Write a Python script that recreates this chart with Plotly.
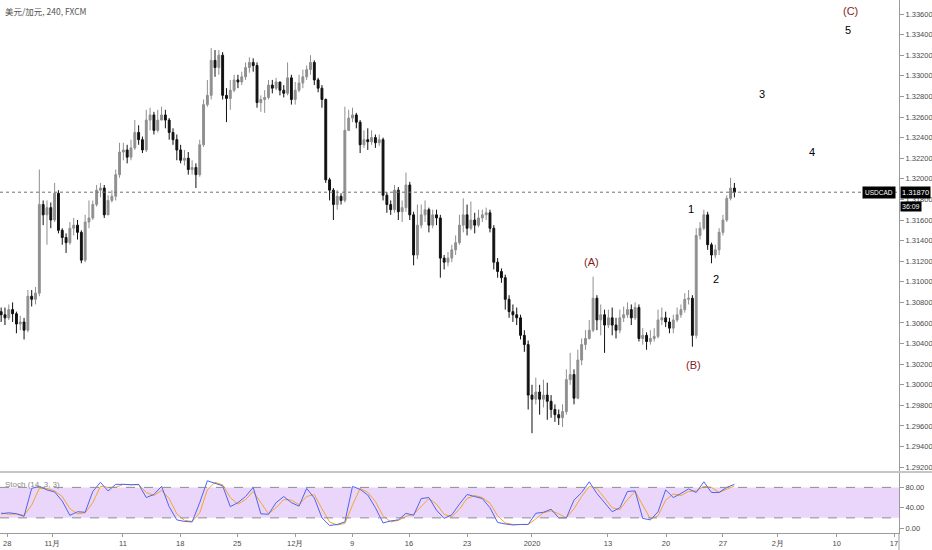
import plotly.graph_objects as go

# ---------------- data ----------------
opens = [1.3071,1.3068,1.3065,1.3073,1.3069,1.3059,1.3061,1.3053,1.3086,1.3083,
 1.3089,1.3175,1.3165,1.3172,1.3160,1.3186,1.3150,1.3143,1.3138,1.3152,
 1.3155,1.3148,1.3121,1.3158,1.3162,1.3175,1.3189,1.3191,1.3165,1.3179,
 1.3183,1.3204,1.3226,1.3228,1.3221,1.3230,1.3245,1.3238,1.3228,1.3257,
 1.3262,1.3247,1.3257,1.3262,1.3257,1.3245,1.3238,1.3228,1.3218,1.3220,
 1.3209,1.3211,1.3204,1.3233,1.3272,1.3281,1.3315,1.3308,1.3320,1.3281,
 1.3278,1.3286,1.3296,1.3294,1.3299,1.3308,1.3313,1.3310,1.3274,1.3277,
 1.3279,1.3291,1.3288,1.3294,1.3286,1.3283,1.3298,1.3277,1.3286,1.3293,
 1.3299,1.3306,1.3313,1.3296,1.3288,1.3277,1.3199,1.3189,1.3175,1.3183,
 1.3179,1.3247,1.3259,1.3262,1.3255,1.3233,1.3238,1.3236,1.3240,1.3235,
 1.3238,1.3184,1.3175,1.3170,1.3189,1.3168,1.3172,1.3194,1.3165,1.3126,
 1.3155,1.3165,1.3170,1.3155,1.3165,1.3162,1.3123,1.3119,1.3123,1.3131,
 1.3138,1.3155,1.3165,1.3152,1.3160,1.3155,1.3162,1.3165,1.3167,1.3152,
 1.3119,1.3110,1.3104,1.3083,1.3071,1.3068,1.3065,1.3048,1.3039,1.2990,
 1.2986,1.2993,1.2986,1.2990,1.2984,1.2976,1.2971,1.2968,1.2974,1.3005,
 1.3010,1.2987,1.3024,1.3039,1.3045,1.3053,1.3084,1.3063,1.3068,1.3058,
 1.3065,1.3058,1.3053,1.3065,1.3068,1.3073,1.3065,1.3075,1.3045,1.3048,
 1.3042,1.3045,1.3047,1.3063,1.3065,1.3061,1.3055,1.3063,1.3068,1.3073,
 1.3083,1.3084,1.3048,1.3145,1.3152,1.3165,1.3136,1.3126,1.3131,1.3148,
 1.3160,1.3181,1.3191]

highs = [1.3075,1.3075,1.3078,1.3080,1.3071,1.3067,1.3065,1.3092,1.3092,1.3095,
 1.3209,1.3179,1.3179,1.3177,1.3196,1.3189,1.3152,1.3147,1.3158,1.3162,
 1.3160,1.3150,1.3165,1.3179,1.3179,1.3194,1.3196,1.3194,1.3184,1.3189,
 1.3209,1.3235,1.3235,1.3233,1.3238,1.3257,1.3252,1.3241,1.3267,1.3269,
 1.3265,1.3267,1.3270,1.3267,1.3259,1.3249,1.3243,1.3233,1.3228,1.3226,
 1.3218,1.3215,1.3238,1.3277,1.3296,1.3327,1.3325,1.3325,1.3323,1.3288,
 1.3296,1.3301,1.3301,1.3304,1.3313,1.3318,1.3317,1.3313,1.3281,1.3286,
 1.3296,1.3296,1.3298,1.3294,1.3291,1.3313,1.3301,1.3294,1.3301,1.3306,
 1.3310,1.3320,1.3315,1.3298,1.3291,1.3278,1.3201,1.3191,1.3189,1.3186,
 1.3270,1.3267,1.3269,1.3264,1.3257,1.3247,1.3249,1.3247,1.3243,1.3243,
 1.3240,1.3187,1.3179,1.3194,1.3192,1.3179,1.3206,1.3197,1.3168,1.3175,
 1.3175,1.3179,1.3172,1.3170,1.3170,1.3165,1.3126,1.3129,1.3136,1.3145,
 1.3165,1.3181,1.3175,1.3178,1.3167,1.3170,1.3170,1.3172,1.3170,1.3155,
 1.3123,1.3113,1.3107,1.3087,1.3078,1.3075,1.3068,1.3053,1.3043,1.3000,
 1.3007,1.3000,1.3005,1.3002,1.2990,1.2981,1.2976,1.2981,1.3015,1.3031,
 1.3015,1.3034,1.3045,1.3053,1.3063,1.3105,1.3087,1.3078,1.3073,1.3073,
 1.3075,1.3065,1.3073,1.3076,1.3080,1.3078,1.3080,1.3078,1.3055,1.3051,
 1.3053,1.3055,1.3073,1.3075,1.3071,1.3065,1.3068,1.3075,1.3078,1.3089,
 1.3092,1.3087,1.3152,1.3158,1.3170,1.3168,1.3138,1.3136,1.3152,1.3165,
 1.3184,1.3201,1.3196]

lows = [1.3061,1.3058,1.3063,1.3061,1.3050,1.3053,1.3044,1.3051,1.3076,1.3078,
 1.3086,1.3155,1.3136,1.3152,1.3158,1.3147,1.3136,1.3128,1.3136,1.3145,
 1.3141,1.3118,1.3119,1.3152,1.3160,1.3173,1.3182,1.3162,1.3167,1.3177,
 1.3179,1.3201,1.3218,1.3215,1.3218,1.3228,1.3233,1.3225,1.3226,1.3247,
 1.3243,1.3245,1.3257,1.3249,1.3238,1.3233,1.3218,1.3215,1.3213,1.3204,
 1.3204,1.3191,1.3202,1.3231,1.3270,1.3277,1.3299,1.3301,1.3277,1.3255,
 1.3267,1.3284,1.3288,1.3291,1.3296,1.3303,1.3304,1.3269,1.3265,1.3264,
 1.3277,1.3283,1.3286,1.3281,1.3279,1.3281,1.3272,1.3272,1.3284,1.3288,
 1.3296,1.3301,1.3291,1.3284,1.3269,1.3196,1.3179,1.3160,1.3170,1.3175,
 1.3177,1.3250,1.3255,1.3249,1.3225,1.3230,1.3228,1.3233,1.3230,1.3232,
 1.3179,1.3167,1.3165,1.3167,1.3160,1.3158,1.3168,1.3160,1.3116,1.3122,
 1.3152,1.3158,1.3148,1.3152,1.3155,1.3104,1.3112,1.3115,1.3119,1.3126,
 1.3136,1.3148,1.3145,1.3150,1.3147,1.3153,1.3158,1.3160,1.3148,1.3112,
 1.3104,1.3099,1.3073,1.3065,1.3061,1.3058,1.3044,1.3032,1.2976,1.2953,
 1.2981,1.2971,1.2978,1.2966,1.2968,1.2964,1.2961,1.2959,1.2971,1.3000,
 1.2981,1.2986,1.3019,1.3034,1.3044,1.3051,1.3053,1.3048,1.3031,1.3055,
 1.3048,1.3045,1.3050,1.3061,1.3065,1.3058,1.3063,1.3042,1.3039,1.3034,
 1.3039,1.3042,1.3045,1.3058,1.3056,1.3050,1.3050,1.3061,1.3065,1.3070,
 1.3078,1.3037,1.3045,1.3141,1.3150,1.3131,1.3118,1.3123,1.3126,1.3145,
 1.3158,1.3179,1.3182]

closes = [1.3068,1.3065,1.3073,1.3069,1.3059,1.3061,1.3053,1.3086,1.3083,1.3089,
 1.3175,1.3165,1.3172,1.3160,1.3186,1.3150,1.3143,1.3138,1.3152,1.3155,
 1.3148,1.3121,1.3158,1.3162,1.3175,1.3189,1.3191,1.3165,1.3179,1.3183,
 1.3204,1.3226,1.3228,1.3221,1.3230,1.3245,1.3238,1.3228,1.3257,1.3262,
 1.3247,1.3257,1.3262,1.3257,1.3245,1.3238,1.3228,1.3218,1.3220,1.3209,
 1.3211,1.3204,1.3233,1.3272,1.3281,1.3315,1.3308,1.3320,1.3281,1.3278,
 1.3286,1.3296,1.3294,1.3299,1.3308,1.3313,1.3310,1.3274,1.3277,1.3279,
 1.3291,1.3288,1.3294,1.3286,1.3283,1.3298,1.3277,1.3286,1.3293,1.3299,
 1.3306,1.3313,1.3296,1.3288,1.3277,1.3199,1.3189,1.3175,1.3183,1.3179,
 1.3247,1.3259,1.3262,1.3255,1.3233,1.3238,1.3236,1.3240,1.3235,1.3238,
 1.3184,1.3175,1.3170,1.3189,1.3168,1.3172,1.3194,1.3165,1.3126,1.3155,
 1.3165,1.3170,1.3155,1.3165,1.3162,1.3123,1.3119,1.3123,1.3131,1.3138,
 1.3155,1.3165,1.3152,1.3160,1.3155,1.3162,1.3165,1.3167,1.3152,1.3119,
 1.3110,1.3104,1.3083,1.3071,1.3068,1.3065,1.3048,1.3039,1.2990,1.2986,
 1.2993,1.2986,1.2990,1.2984,1.2976,1.2971,1.2968,1.2974,1.3005,1.3010,
 1.2987,1.3024,1.3039,1.3045,1.3053,1.3084,1.3063,1.3068,1.3058,1.3065,
 1.3058,1.3053,1.3065,1.3068,1.3073,1.3065,1.3075,1.3045,1.3048,1.3042,
 1.3045,1.3047,1.3063,1.3065,1.3061,1.3055,1.3063,1.3068,1.3073,1.3083,
 1.3084,1.3048,1.3145,1.3152,1.3165,1.3136,1.3126,1.3131,1.3148,1.3160,
 1.3181,1.3191,1.3187]

# Stochastic (14, 3, 3), one reading every second candle
stoch_k = [28,30,28,23,78,82,75,71,53,25,
 32,31,72,90,73,86,86,85,86,60,
 66,82,42,16,13,12,50,93,88,83,
 42,50,62,80,28,27,50,62,50,43,
 78,59,20,5,7,12,82,76,65,40,
 10,14,16,29,25,58,60,35,19,26,
 47,66,62,58,40,11,8,6,7,7,
 29,31,37,20,20,55,70,91,68,50,
 32,40,72,73,19,16,32,75,60,68,
 77,70,91,70,70,80,86]
stoch_d = [30,27,28,25,45,78,78,73,62,38,
 28,30,50,82,80,80,86,85,85,70,
 64,74,58,28,15,13,30,75,90,85,
 60,47,56,72,50,28,40,56,55,46,
 62,66,38,12,6,9,45,78,70,52,
 24,12,15,23,27,42,58,47,27,22,
 37,58,64,60,49,24,10,7,7,7,
 18,30,34,28,20,38,62,82,78,58,
 40,36,56,72,45,18,24,55,67,64,
 72,73,82,80,70,76,83]

tick_labels = ['28', '11月', '11', '18', '25', '12月', '9', '16', '23',
               '2020', '13', '20', '27', '2月', '10', '17']
tick_bars = [1.6, 13.4, 31.9, 46.9, 61.8, 77.0, 91.9, 106.8, 122.0,
             139.0, 158.9, 174.1, 189.0, 203.4, 218.8, 233.8]

last_price = 1.31870
symbol = 'USDCAD'
countdown = '36:09'
title_text = '美元/加元, 240, FXCM'

wave_labels = ['(C)', '5', '3', '4', '1', '2', '(A)', '(B)']
wave_bars = [222.5, 221.7, 199.2, 212.3, 180.6, 187.2, 154.5, 181.4]
wave_prices = [1.3363, 1.3344, 1.3282, 1.3226, 1.3171, 1.3103, 1.3119, 1.3019]
wave_colors = ['#7f1d1d', '#000000', '#000000', '#000000', '#000000', '#000000', '#7f1d1d', '#7f1d1d']

# ---------------- figure ----------------
bars = list(range(len(closes)))
stoch_x = [2 * j for j in range(len(stoch_k))]

FONT = 'Liberation Sans, Arial, sans-serif'
AX = '#4a4a4a'

fig = go.Figure()
fig.add_trace(go.Candlestick(
    x=bars, open=opens, high=highs, low=lows, close=closes,
    increasing=dict(line=dict(color='#8f8f8f', width=1), fillcolor='#8f8f8f'),
    decreasing=dict(line=dict(color='#111111', width=1), fillcolor='#111111'),
    whiskerwidth=0, xaxis='x', yaxis='y', showlegend=False, hoverinfo='skip'))

fig.add_trace(go.Scatter(x=stoch_x, y=stoch_d, mode='lines',
                         line=dict(color='#f5a52a', width=1),
                         xaxis='x2', yaxis='y2', showlegend=False, hoverinfo='skip'))
fig.add_trace(go.Scatter(x=stoch_x, y=stoch_k, mode='lines',
                         line=dict(color='#4f63f2', width=1),
                         xaxis='x2', yaxis='y2', showlegend=False, hoverinfo='skip'))

xr = [-0.3, 235.1]
main_bottom = (533 - 471) / 533
stoch_top = (533 - 473) / 533

fig.update_layout(
    width=932, height=550,
    margin=dict(l=0, r=33, t=0, b=17, autoexpand=False),
    paper_bgcolor='white', plot_bgcolor='white',
    font=dict(family=FONT, size=8, color=AX),
    xaxis=dict(domain=[0, 1], anchor='y', range=xr, showticklabels=False,
               showgrid=False, zeroline=False, showline=False, ticks='',
               rangeslider=dict(visible=False), fixedrange=True),
    yaxis=dict(domain=[main_bottom, 1], range=[1.29163, 1.33736], side='right',
               tick0=1.292, dtick=0.002, tickformat='.5f', showgrid=False,
               zeroline=False, showline=True, linecolor='#9a9a9a', linewidth=1,
               ticks='outside', ticklen=4, tickcolor='#9a9a9a',
               tickfont=dict(size=7.5, color=AX, family=FONT)),
    xaxis2=dict(domain=[0, 1], anchor='y2', matches='x', range=xr,
                tickvals=tick_bars, ticktext=tick_labels, showgrid=False,
                zeroline=False, showline=True, linecolor='#9a9a9a', linewidth=1,
                ticks='outside', ticklen=3, tickcolor='#9a9a9a',
                tickfont=dict(size=7.5, color=AX, family=FONT)),
    yaxis2=dict(domain=[0, stoch_top], range=[-9.8, 108.3], side='right',
                tickvals=[0, 40, 80], ticktext=['0.00', '40.00', '80.00'],
                showgrid=False, zeroline=False, showline=True, linecolor='#9a9a9a',
                linewidth=1, ticks='outside', ticklen=4, tickcolor='#9a9a9a',
                tickfont=dict(size=7.5, color=AX, family=FONT)),
)

shapes = [
    dict(type='rect', xref='paper', yref='y2', x0=0, x1=1, y0=20, y1=80,
         fillcolor='#ead6fb', line=dict(width=0), layer='below'),
    dict(type='line', xref='paper', yref='y2', x0=0, x1=1, y0=80, y1=80,
         line=dict(color='#8c8c8c', width=1, dash='dash')),
    dict(type='line', xref='paper', yref='y2', x0=0, x1=1, y0=20, y1=20,
         line=dict(color='#8c8c8c', width=1, dash='dash')),
    dict(type='line', xref='paper', yref='y', x0=0, x1=1, y0=last_price, y1=last_price,
         line=dict(color='#707070', width=1, dash='dot')),
    dict(type='line', xref='paper', yref='paper', x0=0, x1=1.04,
         y0=(533 - 472) / 533, y1=(533 - 472) / 533,
         line=dict(color='#8c8c8c', width=1)),
    dict(type='line', xref='paper', yref='paper', x0=1, x1=1, y0=-0.04, y1=0,
         line=dict(color='#9a9a9a', width=1)),
]
fig.update_layout(shapes=shapes)

ann = []
ann.append(dict(xref='paper', yref='paper', x=0.003, y=1 - 11 / 533, xanchor='left',
                yanchor='middle', text=title_text, showarrow=False,
                font=dict(family='Noto Sans CJK SC, sans-serif', size=8.5, color='#555555')))
ann.append(dict(xref='paper', yref='paper', x=0.003, y=(533 - 484) / 533, xanchor='left',
                yanchor='middle', text='Stoch (14, 3, 3)', showarrow=False,
                font=dict(family=FONT, size=8, color='#8a8a8a')))
for t, xb, yp, c in zip(wave_labels, wave_bars, wave_prices, wave_colors):
    ann.append(dict(xref='x', yref='y', x=xb, y=yp, text=t, showarrow=False,
                    xanchor='center', yanchor='middle',
                    font=dict(family=FONT, size=11, color=c)))
ann.append(dict(xref='paper', yref='y', x=0.9965, y=last_price, xanchor='right',
                yanchor='middle', text=symbol, showarrow=False, bgcolor='#000000',
                borderpad=2, font=dict(family=FONT, size=6.5, color='white')))
ann.append(dict(xref='paper', yref='y', x=1.0015, y=last_price, xanchor='left',
                yanchor='middle', text=f'{last_price:.5f}', showarrow=False,
                bgcolor='#000000', borderpad=1,
                font=dict(family=FONT, size=7.5, color='white')))
ann.append(dict(xref='paper', yref='y', x=1.0015, y=last_price, xanchor='left',
                yanchor='top', yshift=-9, text=countdown, showarrow=False,
                bgcolor='#000000', borderpad=1,
                font=dict(family=FONT, size=7, color='white')))
fig.update_layout(annotations=ann)

fig.write_html('out.html', config={'displayModeBar': False, 'staticPlot': True},
               post_script="document.body.style.margin='0';document.body.style.overflow='hidden';")
